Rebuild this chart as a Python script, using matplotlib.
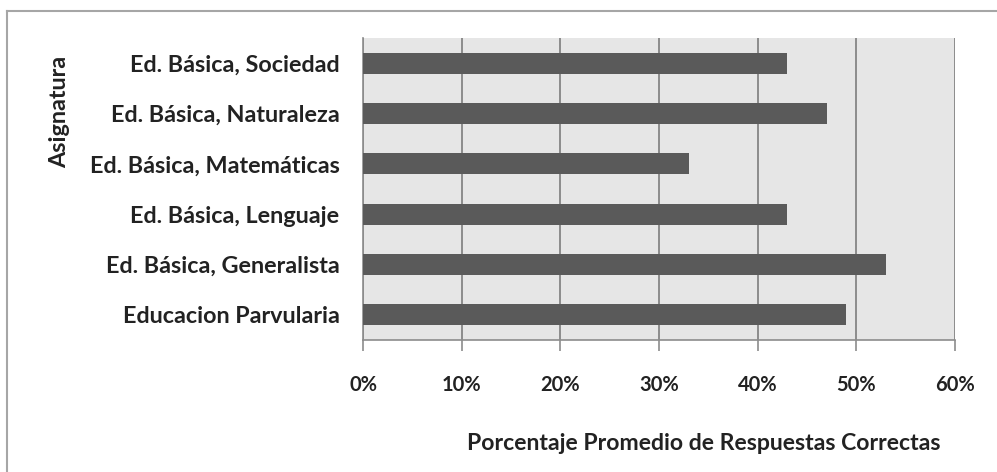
import numpy as np
import matplotlib.pyplot as plt
from matplotlib.lines import Line2D

plt.rcParams['font.family'] = ['Lato', 'DejaVu Sans']

# subjects (bottom to top) and average share of correct answers
asignaturas = ['Educacion Parvularia', 'Ed. Básica, Generalista', 'Ed. Básica, Lenguaje',
               'Ed. Básica, Matemáticas', 'Ed. Básica, Naturaleza', 'Ed. Básica, Sociedad']
porcentaje = [0.49, 0.53, 0.43, 0.33, 0.47, 0.43]
ticks = [0, 0.1, 0.2, 0.3, 0.4, 0.5, 0.6]
tick_labels = ['0%', '10%', '20%', '30%', '40%', '50%', '60%']

W, H = 997, 472
fig = plt.figure(figsize=(W / 100, H / 100), dpi=100)
ax = fig.add_axes([363 / W, 1 - 340 / H, (955 - 363) / W, (340 - 38) / H])

ax.set_facecolor('#e6e6e6')
y = np.arange(len(asignaturas))
ax.barh(y, porcentaje, height=0.42, color='#5a5a5a', zorder=3)

ax.set_xlim(0, 0.6)
ax.set_ylim(-0.5, len(asignaturas) - 0.5)
ax.set_xticks(ticks)
ax.set_xticklabels(tick_labels, fontsize=14.5, fontweight='bold', color='#222222')
ax.set_yticks(y)
ax.set_yticklabels(asignaturas, fontsize=16.8, fontweight='bold', color='#222222')
ax.tick_params(axis='y', length=0, pad=17)
ax.tick_params(axis='x', length=8, width=1.2, color='#8c8c8c', pad=17)
ax.grid(axis='x', color='#8c8c8c', linewidth=1.4, zorder=1)

for side in ['top', 'right']:
    ax.spines[side].set_visible(False)
ax.spines['left'].set_color('#8c8c8c')
ax.spines['bottom'].set_color('#8c8c8c')
ax.spines['left'].set_linewidth(1.2)
ax.spines['bottom'].set_linewidth(1.2)

ax.set_xlabel('Porcentaje Promedio de Respuestas Correctas', fontsize=16.6,
              fontweight='bold', color='#222222', va='center')
ax.xaxis.set_label_coords((704 - 363) / 592, (340 - 443) / 302)
fig.text(60 / W, 1 - 112 / H, 'Asignatura', rotation=90, fontsize=16.8,
         fontweight='bold', color='#222222', ha='center', va='center')

# chart frame (left and top edges)
fig.add_artist(Line2D([7 / W, 7 / W], [0, 1 - 11 / H], color='#a6a6a6', linewidth=1.5))
fig.add_artist(Line2D([7 / W, 1], [1 - 11 / H, 1 - 11 / H], color='#a6a6a6', linewidth=1.5))

fig.savefig('out.png', dpi=100, facecolor='white')
